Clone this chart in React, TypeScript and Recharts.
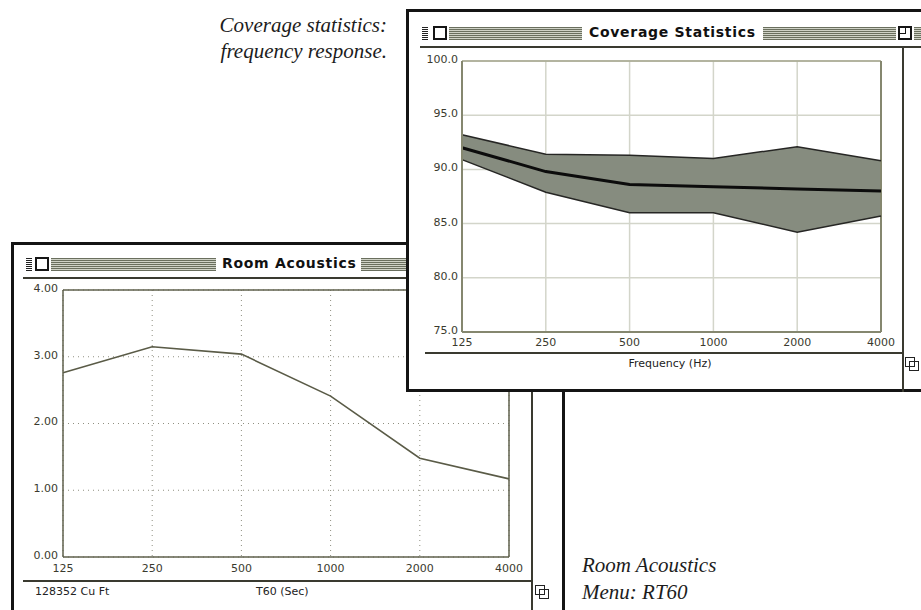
import React from 'react';
import { ComposedChart, LineChart, Line, Area, XAxis, YAxis, CartesianGrid, ReferenceLine } from 'recharts';

const frequencies = ['125', '250', '500', '1000', '2000', '4000'];
const coverageUpper = [93.2, 91.4, 91.3, 91.0, 92.1, 90.8];
const coverageMean = [92.0, 89.8, 88.6, 88.4, 88.2, 88.0];
const coverageLower = [90.9, 87.9, 86.0, 86.0, 84.2, 85.7];
const coverageTicks = [75, 80, 85, 90, 95, 100];
const rt60Values = [2.76, 3.15, 3.04, 2.41, 1.48, 1.17];
const rt60Ticks = [0, 1, 2, 3, 4];

const coverageData = frequencies.map((f, i) => ({
  freq: f,
  band: [coverageLower[i], coverageUpper[i]],
  upper: coverageUpper[i],
  lower: coverageLower[i],
  mean: coverageMean[i],
}));
const rt60Data = frequencies.map((f, i) => ({ freq: f, rt60: rt60Values[i] }));

const UI_FONT = '"DejaVu Sans", Geneva, sans-serif';
const SERIF = '"Liberation Serif", "DejaVu Serif", serif';
const STRIPES = 'repeating-linear-gradient(to bottom, #6a6f5e 0px, #6a6f5e 1px, #cfd2c6 1px, #cfd2c6 2px)';

const box = (l: number, t: number, w: number, h: number, extra: any = {}) => ({
  position: 'absolute' as const, left: l, top: t, width: w, height: h, boxSizing: 'border-box' as const, ...extra,
});

const CloseBox = ({ x, y }: { x: number; y: number }) => (
  <div style={box(x, y, 14, 14, { border: '2px solid #151515', background: '#fff' })} />
);
const MenuIcon = ({ x, y }: { x: number; y: number }) => (
  <div style={box(x, y, 6, 13, { background: 'repeating-linear-gradient(to bottom, #222 0px, #222 1px, #fff 1px, #fff 2px)' })} />
);
const GrowBox = ({ x, y }: { x: number; y: number }) => (
  <div style={box(x, y, 15, 15, {})}>
    <div style={box(0, 0, 10, 10, { border: '1.5px solid #222', background: '#fff' })} />
    <div style={box(4, 4, 10, 10, { border: '1.5px solid #222', background: 'transparent' })} />
  </div>
);

const tickStyle = { fontFamily: UI_FONT, fontSize: 11, fill: '#3a3a2e' };

const YTick = (props: any) => {
  const { x, y, payload, digits } = props;
  return (
    <text x={x} y={y - 2} dy="0.355em" textAnchor="end" style={tickStyle} fill="#3a3a2e" fontSize={11} fontFamily={UI_FONT}>
      {Number(payload.value).toFixed(digits)}
    </text>
  );
};

function RoomWindow() {
  return (
    <>
      <div style={box(11, 242, 554, 420, { border: '3px solid #141414', background: '#fff' })} />
      <MenuIcon x={26} y={258} />
      <CloseBox x={35} y={257} />
      <div style={box(51, 258, 165, 13, { background: STRIPES })} />
      <div style={{ position: 'absolute', left: 222, top: 255, fontFamily: UI_FONT, fontWeight: 700, fontSize: 14, letterSpacing: 0.7, color: '#111', whiteSpace: 'nowrap' }}>Room Acoustics</div>
      <div style={box(361, 258, 60, 13, { background: STRIPES })} />
      <div style={box(23, 277, 520, 2, { background: '#3a3a30' })} />
      <div style={{ position: 'absolute', left: 15, top: 280 }}>
        <LineChart width={510} height={300} data={rt60Data} margin={{ top: 10, right: 16, bottom: 0, left: 0 }}>
          <CartesianGrid stroke="#8f8f80" strokeDasharray="1 4" strokeWidth={1} />
          <XAxis dataKey="freq" scale="point" padding={{ left: 0, right: 0 }} height={23} tickLine={false} tickSize={3} tickMargin={4}
            axisLine={{ stroke: '#5f604c', strokeWidth: 1.5 }} tick={tickStyle} interval={0} />
          <YAxis domain={[0, 4]} ticks={rt60Ticks} width={48} tickLine={false} tickSize={2} tickMargin={3}
            axisLine={{ stroke: '#5f604c', strokeWidth: 1.5 }} tick={<YTick digits={2} />} />
          <ReferenceLine y={4} stroke="#5f604c" strokeWidth={1.5} />
          <ReferenceLine x="4000" stroke="#5f604c" strokeWidth={1.5} />
          <Line type="linear" dataKey="rt60" stroke="#5a5b47" strokeWidth={1.6} dot={false} isAnimationActive={false} />
        </LineChart>
      </div>
      <div style={box(23, 580, 509, 2, { background: '#3a3a30' })} />
      <div style={box(531, 278, 2, 340, { background: '#3a3a30' })} />
      <div style={{ position: 'absolute', left: 35, top: 585, fontFamily: UI_FONT, fontSize: 11, color: '#222', whiteSpace: 'nowrap' }}>128352 Cu Ft</div>
      <div style={{ position: 'absolute', left: 256, top: 585, fontFamily: UI_FONT, fontSize: 11, color: '#222', whiteSpace: 'nowrap' }}>T60 (Sec)</div>
      <GrowBox x={535} y={585} />
    </>
  );
}

function CoverageWindow() {
  return (
    <>
      <div style={box(406, 9, 545, 383, { border: '3px solid #141414', background: '#fff' })} />
      <MenuIcon x={422} y={27} />
      <CloseBox x={433} y={26} />
      <div style={box(449, 27, 133, 13, { background: STRIPES })} />
      <div style={{ position: 'absolute', left: 589, top: 24, fontFamily: UI_FONT, fontWeight: 700, fontSize: 14, letterSpacing: 0.7, color: '#111', whiteSpace: 'nowrap' }}>Coverage Statistics</div>
      <div style={box(763, 27, 133, 13, { background: STRIPES })} />
      <div style={box(898, 26, 14, 14, { border: '2px solid #151515', background: '#fff' })}>
        <div style={box(0, 0, 6, 6, { borderRight: '1.5px solid #151515', borderBottom: '1.5px solid #151515' })} />
      </div>
      <div style={box(914, 27, 10, 13, { background: STRIPES })} />
      <div style={box(420, 46, 510, 2, { background: '#3a3a30' })} />
      <div style={{ position: 'absolute', left: 410, top: 50 }}>
        <ComposedChart width={490} height={300} data={coverageData} margin={{ top: 11, right: 19, bottom: 0, left: 0 }}>
          <CartesianGrid stroke="#d3d5ca" strokeWidth={1.5} />
          <XAxis dataKey="freq" scale="point" padding={{ left: 0, right: 0 }} height={18} tickLine={false} tickSize={2} tickMargin={4}
            axisLine={{ stroke: '#85876f', strokeWidth: 2 }} tick={tickStyle} interval={0} />
          <YAxis domain={[75, 100]} ticks={coverageTicks} width={52} tickLine={false} tickSize={2} tickMargin={2}
            axisLine={{ stroke: '#85876f', strokeWidth: 2 }} tick={<YTick digits={1} />} />
          <ReferenceLine y={100} stroke="#a4a68e" strokeWidth={1.5} />
          <ReferenceLine x="4000" stroke="#85876f" strokeWidth={2} />
          <Area type="linear" dataKey="band" stroke="none" fill="#868c7f" fillOpacity={1} isAnimationActive={false} />
          <Line type="linear" dataKey="upper" stroke="#262624" strokeWidth={1.5} dot={false} isAnimationActive={false} />
          <Line type="linear" dataKey="lower" stroke="#262624" strokeWidth={1.5} dot={false} isAnimationActive={false} />
          <Line type="linear" dataKey="mean" stroke="#0c0c0c" strokeWidth={3} dot={false} isAnimationActive={false} />
        </ComposedChart>
      </div>
      <div style={box(425, 352, 478, 2, { background: '#3a3a30' })} />
      <div style={box(902, 47, 2, 345, { background: '#3a3a30' })} />
      <div style={{ position: 'absolute', left: 670, top: 357, transform: 'translateX(-50%)', fontFamily: UI_FONT, fontSize: 11, color: '#222', whiteSpace: 'nowrap' }}>Frequency (Hz)</div>
      <GrowBox x={905} y={357} />
    </>
  );
}

export default function App() {
  return (
    <div style={{ position: 'absolute', left: 0, top: 0, width: 921, height: 610, overflow: 'hidden', background: '#fff' }}>
      <div style={{ position: 'absolute', right: 534, top: 12, textAlign: 'right', fontFamily: SERIF, fontStyle: 'italic', fontSize: 21, lineHeight: '26px', color: '#1c1c1c', whiteSpace: 'nowrap' }}>
        Coverage statistics:<br />frequency response.
      </div>
      <RoomWindow />
      <CoverageWindow />
      <div style={{ position: 'absolute', left: 582, top: 552, fontFamily: SERIF, fontStyle: 'italic', fontSize: 21, lineHeight: '27px', color: '#1c1c1c', whiteSpace: 'nowrap' }}>
        Room Acoustics<br />Menu: RT60
      </div>
    </div>
  );
}
